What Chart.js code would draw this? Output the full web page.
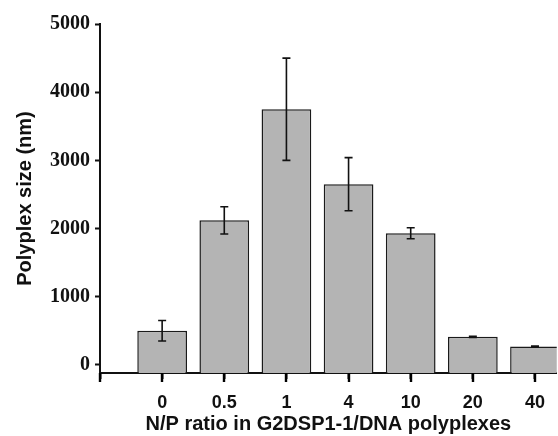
<!DOCTYPE html>
<html>
<head>
<meta charset="utf-8">
<script src="https://cdn.jsdelivr.net/npm/chart.js@4.4.0/dist/chart.umd.min.js"></script>
<style>
html,body{margin:0;padding:0;background:#fff;}
#wrap{width:558px;height:436px;position:relative;}
</style>
</head>
<body>
<div id="wrap"><canvas id="c" width="558" height="436"></canvas></div>
<script>
const categories = ['0', '0.5', '1', '4', '10', '20', '40'];
const sizes = [500, 2120, 3750, 2650, 1930, 410, 270];
const errors = [150, 200, 750, 390, 80, 10, 6];
const yTicks = [0, 1000, 2000, 3000, 4000, 5000];

const points = categories.map((c, i) => ({x: i, y: sizes[i]}));

const errorBars = {
  id: 'errorBars',
  afterDraw(chart) {
    const ctx = chart.ctx;
    const xs = chart.scales.x, ys = chart.scales.y;
    ctx.save();
    ctx.strokeStyle = '#111';
    ctx.lineWidth = 1.6;
    points.forEach((p, i) => {
      const x = xs.getPixelForValue(p.x);
      const yt = ys.getPixelForValue(p.y + errors[i]);
      const yb = ys.getPixelForValue(p.y - errors[i]);
      ctx.beginPath();
      ctx.moveTo(x, yt); ctx.lineTo(x, yb);
      ctx.moveTo(x - 4, yt); ctx.lineTo(x + 4, yt);
      ctx.moveTo(x - 4, yb); ctx.lineTo(x + 4, yb);
      ctx.stroke();
    });
    const yAxis = chart.chartArea.bottom;
    ctx.strokeStyle = '#000';
    ctx.lineWidth = 2.4;
    ctx.beginPath();
    [-1].concat(points.map(p => p.x)).forEach(v => {
      const x = Math.round(xs.getPixelForValue(v));
      ctx.moveTo(x, yAxis); ctx.lineTo(x, yAxis + 9);
    });
    ctx.stroke();
    ctx.restore();
  }
};

new Chart(document.getElementById('c'), {
  type: 'bar',
  data: {
    datasets: [{
      data: points,
      base: -120,
      backgroundColor: '#b4b4b4',
      borderColor: '#1a1a1a',
      borderWidth: 1.5,
      barPercentage: 1,
      categoryPercentage: 0.8
    }]
  },
  options: {
    responsive: false,
    animation: false,
    layout: {padding: {top: 24, right: 0, left: 0, bottom: 0}},
    plugins: {legend: {display: false}, tooltip: {enabled: false}},
    scales: {
      x: {
        type: 'linear',
        min: -1,
        max: 6.35,
        offset: false,
        afterBuildTicks(s) { s.ticks = [-1, 0, 1, 2, 3, 4, 5, 6].map(v => ({value: v})); },
        afterFit(s) { s.height = 63; },
        grid: {display: true, offset: false, drawOnChartArea: false, drawTicks: true, tickLength: 6, tickWidth: 2, color: '#111'},
        border: {display: true, color: '#111', width: 2},
        ticks: {
          autoSkip: false,
          maxRotation: 0,
          padding: 13,
          color: '#111',
          font: {family: 'Liberation Sans, Arial', weight: 'bold', size: 18},
          callback: v => (v >= 0 && v < categories.length) ? categories[v] : ''
        },
        title: {
          display: true,
          text: 'N/P ratio in G2DSP1-1/DNA polyplexes',
          color: '#111',
          padding: {top: 0, bottom: 0},
          font: {family: 'Liberation Sans, Arial', weight: 'bold', size: 20}
        }
      },
      y: {
        min: -120,
        max: 5000,
        afterBuildTicks(s) { s.ticks = yTicks.map(v => ({value: v})); },
        afterFit(s) { s.width = 100; },
        grid: {display: true, drawOnChartArea: false, drawTicks: true, tickLength: 5, tickWidth: 2, color: '#111'},
        border: {display: true, color: '#111', width: 2},
        ticks: {
          padding: 5,
          color: '#111',
          font: {family: 'Liberation Serif, Times New Roman', weight: 'bold', size: 20},
          callback: v => String(v)
        },
        title: {
          display: true,
          text: 'Polyplex size (nm)',
          color: '#111',
          padding: {top: 13, bottom: 0},
          font: {family: 'Liberation Sans, Arial', weight: 'bold', size: 20}
        }
      }
    }
  },
  plugins: [errorBars]
});
</script>
</body>
</html>
